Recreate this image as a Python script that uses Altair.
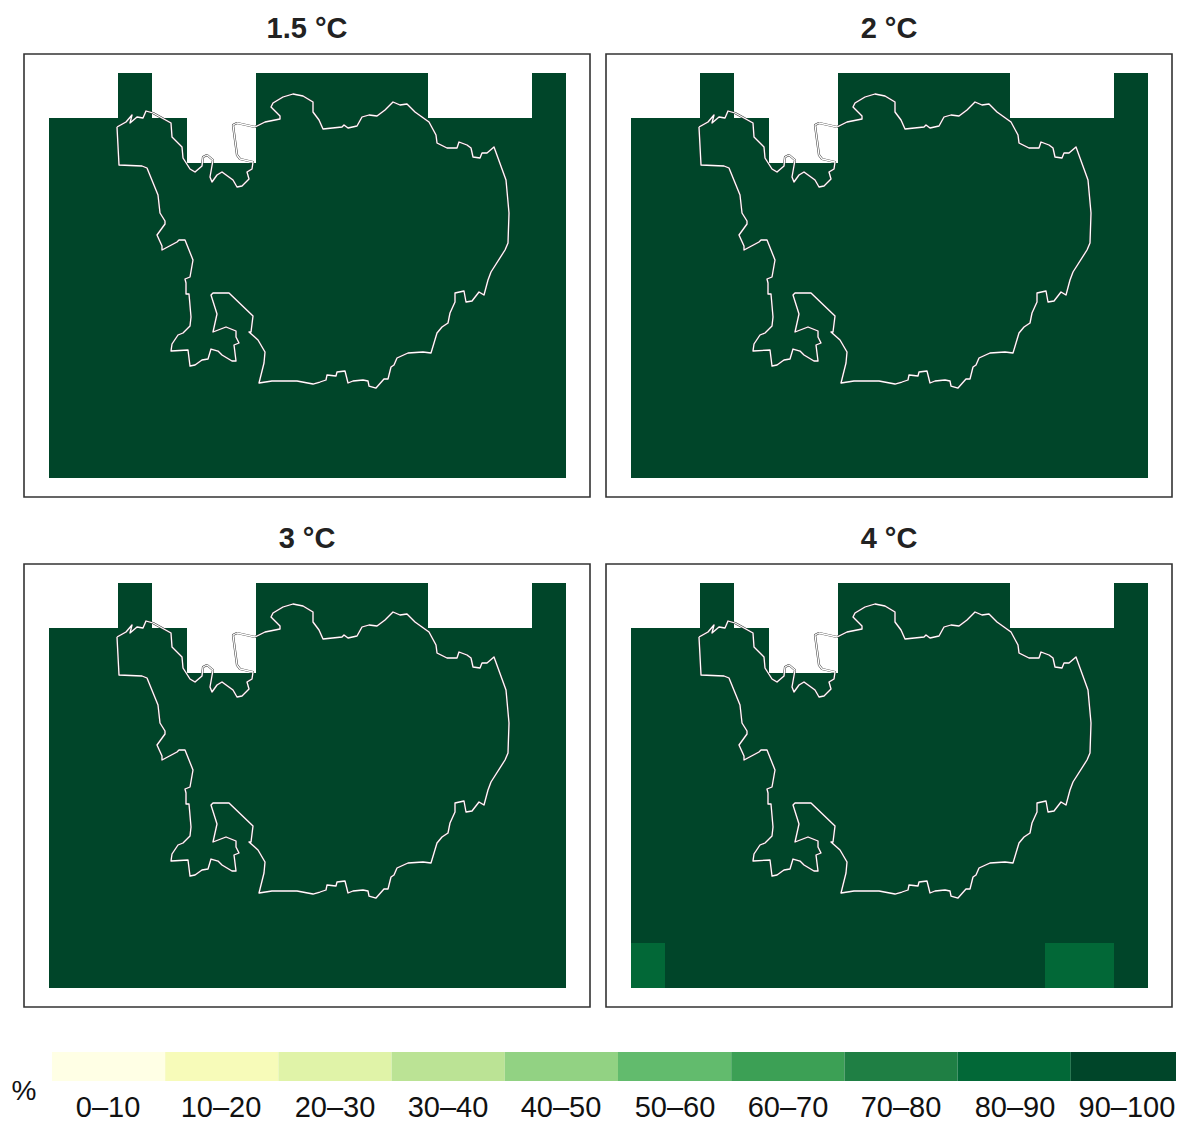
import altair as alt
import pandas as pd

PANELS = ["1.5 °C", "2 °C", "3 °C", "4 °C"]
CLASSES = ["0–10", "10–20", "20–30", "30–40", "40–50", "50–60", "60–70", "70–80", "80–90", "90–100"]
COLORS = ["#ffffe5", "#f7fbb9", "#e0f3a8", "#bbe395", "#92d283", "#62bb6d", "#3ca055", "#1f7f44", "#026837", "#004529"]

N_COLS = 15
N_ROWS = 9
COL_WIDTH = 34.47
ROW_HEIGHT = 45
GRID_X0 = 49
GRID_Y0 = 73
# Grid rows that are only partly covered (all the others are complete)
PARTIAL_ROWS = {0: [2, 6, 7, 8, 9, 10, 14], 1: [0, 1, 2, 3, 6, 7, 8, 9, 10, 11, 12, 13, 14]}
# Cells of the 4 °C panel that fall in the 80–90 class
LOWER_CELLS_4C = [(8, 0), (8, 12), (8, 13)]

OUTLINE_X = [117,126,132,130,137,143,146,153,171,172,182,183,190,195,202,203,207,213,210,212,217,222,233,237,242,249,247,252,253,240,237,233,237,255,265,280,280,271,273,283,293,303,313,313,319,323,342,344,348,357,362,369,377,385,393,400,407,415,429,436,437,447,457,459,467,471,473,480,482,487,494,506,509,508,505,491,488,484,479,472,466,464,455,455,450,448,442,437,434,431,423,408,397,394,391,388,384,376,369,368,363,353,348,345,337,336,327,326,320,313,297,272,259,264,265,258,249,251,253,229,213,211,217,213,226,236,236,239,234,236,232,222,218,211,208,202,195,190,188,171,172,178,183,190,191,189,186,186,185,190,193,185,179,177,162,162,157,165,165,160,158,147,142,119,117]
OUTLINE_Y = [127,122,115,123,117,118,111,113,123,137,147,158,169,172,166,157,155,160,177,182,175,172,180,187,186,179,172,169,162,159,155,125,123,127,122,119,116,107,103,97,94,96,102,112,120,129,127,125,128,126,117,115,116,110,102,105,104,112,122,135,143,148,148,142,145,148,157,158,153,153,147,180,213,243,250,272,280,295,292,301,302,291,293,302,313,323,327,333,343,353,352,353,358,365,367,379,379,388,386,381,380,381,383,371,372,376,375,380,382,384,381,381,383,363,352,340,332,332,316,293,293,295,314,332,327,331,337,343,345,361,361,355,351,349,359,360,365,366,350,351,344,335,333,326,317,294,294,283,279,277,260,240,240,242,250,246,235,224,221,213,195,168,166,165,127]

XDOM = [24, 590]
YDOM = [497, 54]
PW, PH = 566, 443

outline = pd.DataFrame({"x": OUTLINE_X, "y": OUTLINE_Y, "i": range(len(OUTLINE_X))})
xs = alt.Scale(domain=XDOM, zero=False, nice=False)
ys = alt.Scale(domain=YDOM, zero=False, nice=False)
color = alt.Scale(domain=CLASSES, range=COLORS)


def cells(panel):
    rows = []
    for r in range(N_ROWS):
        for c in PARTIAL_ROWS.get(r, range(N_COLS)):
            low = panel == "4 °C" and (r, c) in LOWER_CELLS_4C
            rows.append({
                "x": round(GRID_X0 + c * COL_WIDTH), "x2": round(GRID_X0 + (c + 1) * COL_WIDTH),
                "y": GRID_Y0 + r * ROW_HEIGHT, "y2": GRID_Y0 + (r + 1) * ROW_HEIGHT,
                "cls": CLASSES[8] if low else CLASSES[9],
            })
    return pd.DataFrame(rows)


def panel(name):
    rect = alt.Chart(cells(name)).mark_rect().encode(
        x=alt.X("x:Q", scale=xs, axis=None), x2="x2:Q",
        y=alt.Y("y:Q", scale=ys, axis=None), y2="y2:Q",
        color=alt.Color("cls:N", scale=color, legend=None),
    )
    base = alt.Chart(outline).encode(
        x=alt.X("x:Q", scale=xs, axis=None),
        y=alt.Y("y:Q", scale=ys, axis=None),
        order="i:Q",
    )
    dark = base.mark_line(color="#333333", strokeWidth=2.2, strokeJoin="round", interpolate="monotone" if False else "linear")
    light = base.mark_line(color="#ffffff", strokeWidth=1.3, strokeJoin="round")
    return alt.layer(rect, dark, light).properties(
        width=PW, height=PH,
        title=alt.TitleParams(name, fontSize=29, fontWeight="bold", font="Liberation Sans",
                              color="#222222", offset=10),
        view=alt.ViewConfig(stroke="#333333", strokeWidth=1.6, fill="white"),
    )


LEG_X0 = 52
LEG_W = 113.2
LEG_RIGHT = 1176
LABEL_X = [108, 221, 335, 448, 561, 675, 788, 901, 1015, 1127]
leg = pd.DataFrame({
    "x": [LEG_X0 + i * LEG_W for i in range(10)],
    "x2": [min(LEG_X0 + (i + 1) * LEG_W, LEG_RIGHT) for i in range(10)],
    "cls": CLASSES,
    "mid": LABEL_X,
})
lx = alt.Scale(domain=[24, LEG_RIGHT], zero=False, nice=False)
ly = alt.Scale(domain=[0, 47], zero=False, nice=False)
leg["y"] = 0
leg["y2"] = 29
leg_rect = alt.Chart(leg).mark_rect().encode(
    x=alt.X("x:Q", scale=lx, axis=None), x2="x2:Q",
    y=alt.Y("y:Q", scale=ly, axis=None), y2="y2:Q",
    color=alt.Color("cls:N", scale=color, legend=None),
)
leg_text = alt.Chart(leg).mark_text(fontSize=29, font="Liberation Sans", color="#111111",
                                    baseline="alphabetic", align="center").encode(
    x=alt.X("mid:Q", scale=lx, axis=None),
    y=alt.value(83),
    text="cls:N",
)
pct = alt.Chart(pd.DataFrame({"x": [24], "t": ["%"]})).mark_text(
    fontSize=28, font="Liberation Sans", color="#111111", baseline="alphabetic", align="center"
).encode(x=alt.X("x:Q", scale=lx, axis=None), y=alt.value(66), text="t:N")
legend_panel = alt.layer(leg_rect, leg_text, pct).properties(
    width=LEG_RIGHT - 24, height=47, view=alt.ViewConfig(stroke=None)
)

row1 = alt.hconcat(panel(PANELS[0]), panel(PANELS[1]), spacing=14)
row2 = alt.hconcat(panel(PANELS[2]), panel(PANELS[3]), spacing=14)
chart = alt.vconcat(row1, row2, legend_panel, spacing=26).properties(
    padding={"left": 3, "top": 6, "right": 0, "bottom": 0}, background="white"
)
chart.save("out.html", embed_options={"renderer": "svg", "actions": False})
